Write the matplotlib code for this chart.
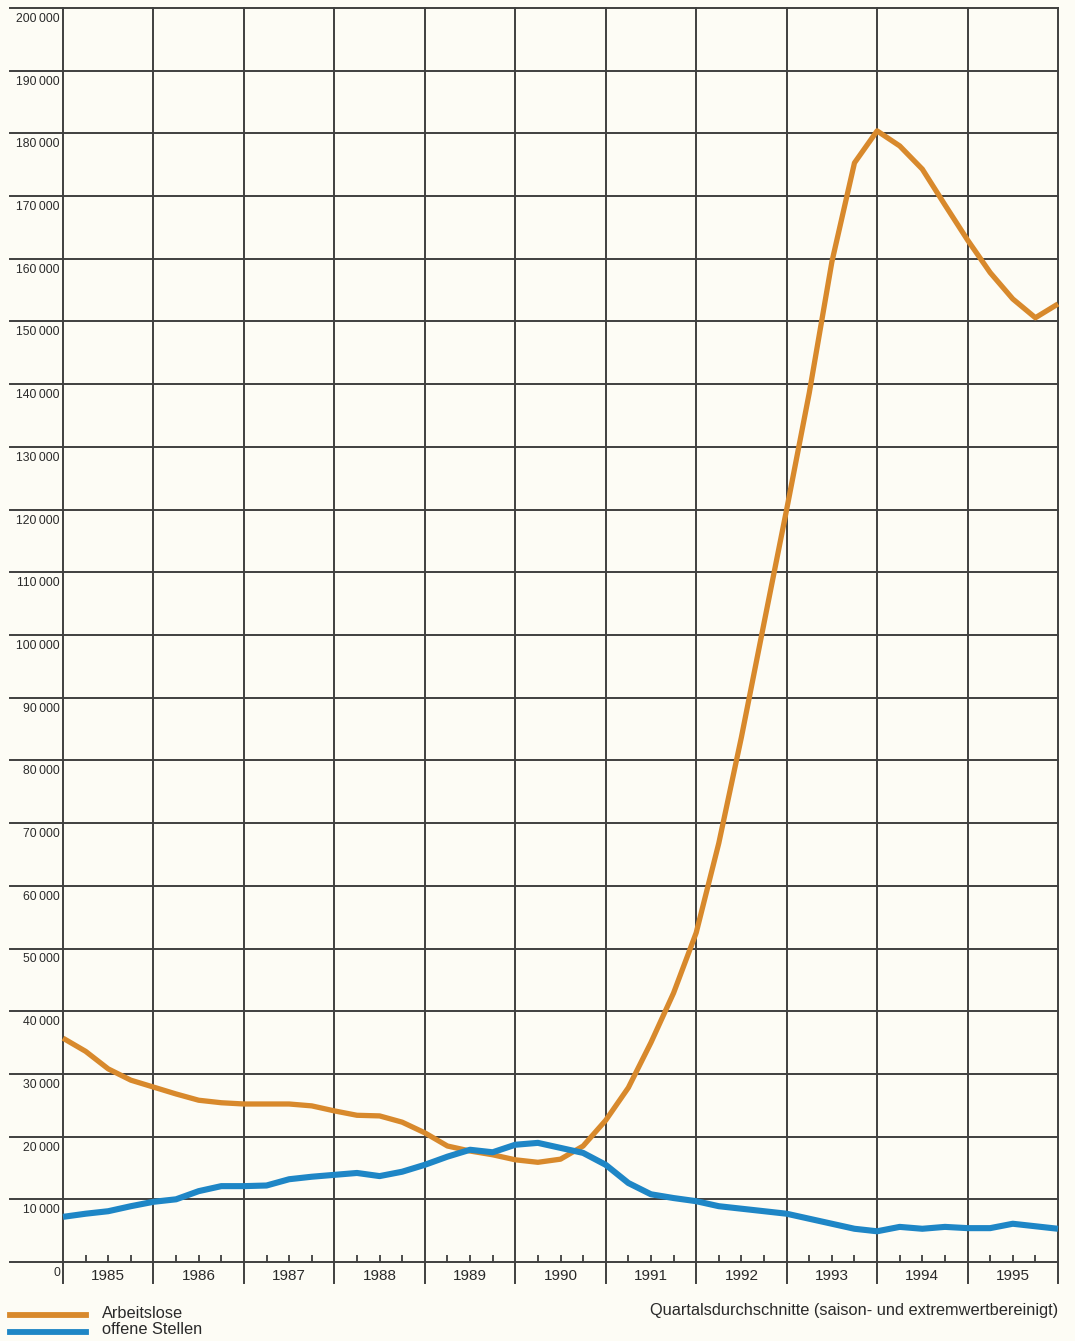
import matplotlib
matplotlib.use("Agg")
import matplotlib.pyplot as plt
import matplotlib.transforms as mtransforms
import numpy as np

plt.rcParams['font.family'] = ['Liberation Sans', 'DejaVu Sans']

# ---- data (quarterly, 1985.0 .. 1996.0) ----
quarters = [1985 + 0.25 * i for i in range(45)]
arbeitslose = [35700, 33600, 30800, 29000, 27900, 26800, 25800, 25400,
               25200, 25200, 25200, 24900, 24100, 23400, 23300, 22300,
               20600, 18500, 17700, 17100, 16300, 15900, 16400, 18500,
               22600, 27800, 35000, 42900, 52500, 66800, 83700, 101900,
               120000, 138600, 159500, 175300, 180400, 178000, 174300, 168600,
               163000, 157800, 153600, 150600, 152800]
offene_stellen = [7200, 7700, 8100, 8900, 9600, 10000, 11300, 12100,
                  12100, 12200, 13200, 13600, 13900, 14200, 13700, 14400,
                  15500, 16800, 17900, 17500, 18700, 19000, 18200, 17400,
                  15500, 12600, 10800, 10200, 9700, 8900, 8500, 8100,
                  7700, 6900, 6100, 5300, 4900, 5600, 5300, 5600,
                  5400, 5400, 6100, 5700, 5300]
years = list(range(1985, 1996))
y_values = list(range(0, 200001, 10000))
series_labels = ["Arbeitslose", "offene Stellen"]
note = "Quartalsdurchschnitte (saison- und extremwertbereinigt)"

ORANGE = "#D8892C"
BLUE = "#1E86C6"
GRID = "#3f3f3f"
BG = "#FDFCF5"
TXT = "#2a2a2a"

W, H = 1075, 1341
fig = plt.figure(figsize=(W / 100, H / 100), dpi=100, facecolor=BG)
left_px, right_px, top_px, bot_px = 63, 1058, 8, 1262
ax = fig.add_axes([left_px / W, 1 - bot_px / H, (right_px - left_px) / W, (bot_px - top_px) / H])
ax.set_facecolor(BG)
ax.set_xlim(1985, 1996)
ax.set_ylim(0, 200000)
for s in ax.spines.values():
    s.set_visible(False)

ax_w = right_px - left_px
ax_h = bot_px - top_px

# horizontal grid lines extending left
for v in y_values:
    ax.axhline(v, xmin=(10 - left_px) / ax_w, xmax=1, color=GRID, lw=1.4,
               clip_on=False, zorder=1)
# vertical year lines extending below
for yr in years + [1996]:
    ax.axvline(yr, ymin=-(1283 - bot_px) / ax_h, ymax=1, color=GRID, lw=1.4,
               clip_on=False, zorder=1)

# y labels below gridlines
trans = mtransforms.blended_transform_factory(ax.transAxes, ax.transData)
for v in y_values:
    lab = "0" if v == 0 else f"{v // 1000}\u2009000"
    ax.annotate(lab, xy=(0, v), xycoords=trans, xytext=(-3, -5),
                textcoords='offset pixels', ha='right', va='top',
                fontsize=8.8, color=TXT)

# x ticks: quarter ticks pointing up, year labels centered
ax.set_yticks([])
major = [y + 0.5 for y in years]
minor = [y + q for y in years for q in (0.25, 0.75)]
ax.set_xticks(major)
ax.set_xticklabels([str(y) for y in years], fontsize=11, color=TXT)
ax.set_xticks(minor, minor=True)
ax.tick_params(axis='x', which='both', direction='in', length=5, width=1.3,
               color=GRID, pad=5)

# series
ax.plot(quarters, arbeitslose, color=ORANGE, lw=3.8, solid_joinstyle='round',
        solid_capstyle='butt', zorder=3, clip_on=False)
ax.plot(quarters, offene_stellen, color=BLUE, lw=4.4, solid_joinstyle='round',
        solid_capstyle='butt', zorder=3, clip_on=False)

# legend (manual)
fig.add_artist(plt.Line2D([10 / W, 86 / W], [1 - 1315 / H] * 2, color=ORANGE, lw=4.2))
fig.add_artist(plt.Line2D([10 / W, 86 / W], [1 - 1332 / H] * 2, color=BLUE, lw=4.2))
fig.text(102 / W, 1 - 1313 / H, series_labels[0], fontsize=11.8, va='center',
         ha='left', color=TXT)
fig.text(102 / W, 1 - 1330 / H, series_labels[1], fontsize=11.8, va='center',
         ha='left', color=TXT)
fig.text(1058 / W, 1 - 1311 / H, note, fontsize=11.8, va='center', ha='right',
         color=TXT)

fig.savefig("out.png", dpi=100, facecolor=BG)
